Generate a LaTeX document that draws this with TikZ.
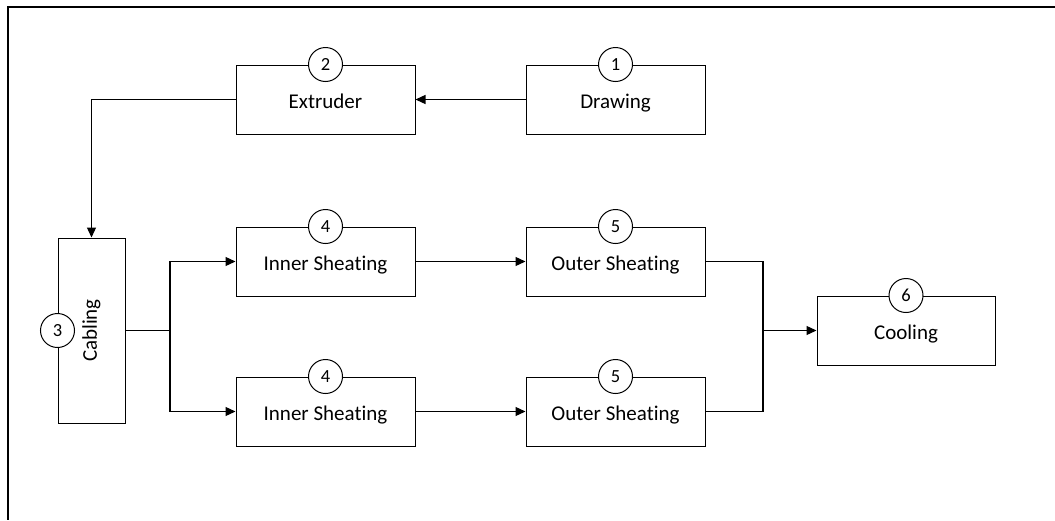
\documentclass[tikz,border=0pt]{standalone}
\usepackage{fontspec}
\setmainfont{Carlito}[Ligatures=NoCommon]
\usetikzlibrary{arrows.meta}
\begin{document}
\begin{tikzpicture}[x=1pt,y=-1pt,
  box/.style={draw,line width=1pt,minimum width=179pt,minimum height=69pt,inner sep=0pt,text height=20pt,text depth=3pt,font=\fontsize{21}{24}\selectfont},
  num/.style={draw,circle,fill=white,line width=1pt,minimum size=34pt,inner sep=0pt,font=\fontsize{18.5}{20}\selectfont},
  conn/.style={line width=1.3pt},
  arr/.style={line width=1.3pt,-{Triangle[length=10pt,width=9pt]}}]
\useasboundingbox (0,0) rectangle (1055,520);
\draw[line width=1.3pt] (1055,7) -- (8,7) -- (8,520);
% boxes
\node[box] (drw) at (615.5,99.5) {Drawing};
\node[box] (ext) at (325.5,99.5) {Extruder};
\node[box,minimum width=67pt,minimum height=185pt,text height=0pt,text depth=0pt] (cab) at (91.5,330.5) {};
\node[rotate=90,font=\fontsize{21}{24}\selectfont] (cabt) at (cab.center) {Cabling};
\node[box] (in1) at (325.5,261.5) {Inner Sheating};
\node[box] (out1) at (615.5,261.5) {Outer Sheating};
\node[box] (in2) at (325.5,411.5) {Inner Sheating};
\node[box] (out2) at (615.5,411.5) {Outer Sheating};
\node[box,minimum width=178pt] (cool) at (906,330.5) {Cooling};
% number circles
\node[num] (n1) at (drw.north) {1};
\node[num] (n2) at (ext.north) {2};
\node[num] (n3) at (cab.west) {3};
\node[num] (n4a) at (in1.north) {4};
\node[num] (n5a) at (out1.north) {5};
\node[num] (n4b) at (in2.north) {4};
\node[num] (n5b) at (out2.north) {5};
\node[num] (n6) at (cool.north) {6};
% connectors
\coordinate (split) at (170,330.5);
\coordinate (merge) at (763,330.5);
\draw[arr] (drw.west) -- (ext.east);
\draw[arr] (ext.west) -| (cab.north);
\draw[conn] (cab.east) -- (split);
\draw[arr] (split) |- (in1.west);
\draw[arr] (split) |- (in2.west);
\draw[arr] (in1.east) -- (out1.west);
\draw[arr] (in2.east) -- (out2.west);
\draw[conn] (out1.east) -| (merge);
\draw[conn] (out2.east) -| (merge);
\draw[arr] (merge) -- (cool.west);
\end{tikzpicture}
\end{document}
